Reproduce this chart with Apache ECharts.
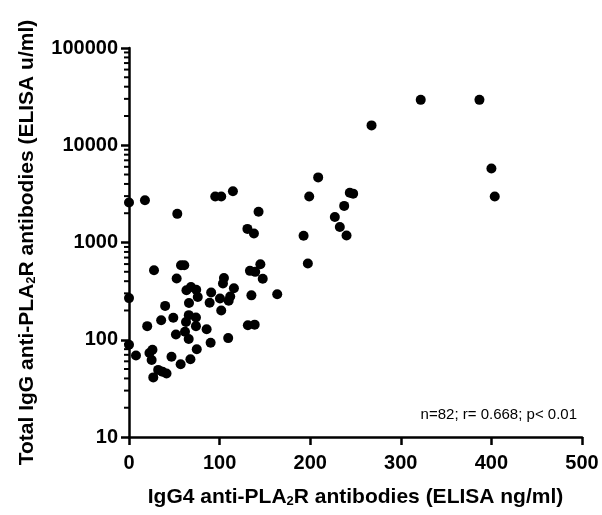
<!DOCTYPE html>
<html>
<head>
<meta charset="utf-8">
<script src="https://cdn.jsdelivr.net/npm/echarts@6/dist/echarts.min.js"></script>
<style>
html,body{margin:0;padding:0;background:#fff;}
#chart{width:602px;height:515px;}
</style>
</head>
<body>
<div id="chart"></div>
<script>
// IgG4 anti-PLA2R (ng/ml)
const igg4 = [
  0, 17.6, 53.3, 95.2, 101.8, 114.7, 143, 130.7, 137.9, 192.7,
  197.4, 27.6, 57.4, 61, 52.6, 133.5, 139.3, 145, 147.6, 104.8,
  103.7, 115.8, 68.4, 63.4, 74.2, 75.9, 90.7, 0, 66.2, 89,
  100.4, 110, 111.7, 135.1, 163.6, 39.9, 101.8, 66, 73.9, 48.9,
  35.5, 62.9, 20.1, 73.9, 85.7, 131.2, 138.7, 61.8, 51.8, 65.9,
  109.5, 0, 90.1, 74.8, 25.9, 7.7, 22.6, 25, 46.9, 67.8,
  57, 32.2, 36.9, 41.4, 26.8, 322, 386.8, 267.7, 400, 403.7,
  208.8, 198.9, 243.7, 247.4, 237.5, 227.2, 232.7, 240.1
];
// Total IgG anti-PLA2R (u/ml)
const totalIgG = [
  2580, 2720, 1970, 2970, 2970, 3370, 2070, 1380, 1240, 1175,
  608, 519, 584, 584, 427, 511, 499, 598, 423, 431,
  379, 339, 349, 323, 327, 275, 306, 268, 239, 240,
  265, 252, 278, 286, 294, 223, 200, 179, 169, 168,
  159, 152, 138, 138, 128, 141, 143, 121, 113, 102,
  104, 89, 93, 80, 79, 69, 73, 62, 67, 63,
  56, 49, 47, 45, 41, 29300, 29300, 16000, 5770, 2970,
  4670, 2970, 3250, 3180, 2380, 1830, 1445, 1180
];
const xTicks = [0, 100, 200, 300, 400, 500];
const yTicks = [10, 100, 1000, 10000, 100000];
const yMinorTicks = [];
for (let d = 10; d < 100000; d *= 10) {
  for (let m = 2; m <= 9; m++) yMinorTicks.push(m * d);
}
const statsText = 'n=82; r= 0.668; p< 0.01';

const FONT = '"Liberation Sans", Arial, sans-serif';
const points = igg4.map((x, i) => [x, totalIgG[i]]);

const nameRich = {
  a: {fontFamily: FONT, fontSize: 21, fontWeight: 'bold', color: '#000'},
  s: {fontFamily: FONT, fontSize: 13, fontWeight: 'bold', color: '#000', verticalAlign: 'bottom'}
};

const chart = echarts.init(document.getElementById('chart'), null, {renderer: 'canvas'});
chart.setOption({
  animation: false,
  backgroundColor: '#fff',
  grid: {left: 129, right: 20, top: 48, bottom: 78, containLabel: false},
  xAxis: {
    type: 'value',
    min: xTicks[0], max: xTicks[xTicks.length - 1], interval: 100,
    name: '{a|IgG4 anti-PLA}{s|2}{a|R antibodies (ELISA ng/ml)}',
    nameLocation: 'middle', nameGap: 50,
    nameTextStyle: {rich: nameRich},
    axisLine: {onZero: false, lineStyle: {color: '#000', width: 2.5}},
    axisTick: {show: true, length: 8, lineStyle: {color: '#000', width: 2.5}},
    axisLabel: {fontFamily: FONT, fontSize: 20, fontWeight: 'bold', color: '#000', margin: 16},
    splitLine: {show: false}
  },
  yAxis: {
    type: 'log', logBase: 10,
    min: yTicks[0], max: yTicks[yTicks.length - 1],
    name: '{a|Total IgG anti-PLA}{s|2}{a|R antibodies (ELISA u/ml)}',
    nameLocation: 'middle', nameGap: 91,
    nameTextStyle: {rich: nameRich},
    axisLine: {onZero: false, lineStyle: {color: '#000', width: 2.5}},
    axisTick: {show: true, length: 8, lineStyle: {color: '#000', width: 2.5}},
    axisLabel: {fontFamily: FONT, fontSize: 20, fontWeight: 'bold', color: '#000', margin: 11,
      formatter: v => String(v)},
    splitLine: {show: false},
    minorTick: {show: false}
  },
  graphic: [{
    type: 'text', right: 25, top: 407,
    style: {text: statsText, font: '15px ' + FONT, fill: '#000'}
  }],
  series: [
    {
      type: 'custom',
      silent: true,
      clip: false,
      z: 1,
      data: yMinorTicks.map(v => [xTicks[0], v]),
      encode: {x: 0, y: 1},
      renderItem: function (params, api) {
        const p = api.coord([api.value(0), api.value(1)]);
        return {
          type: 'line',
          shape: {x1: p[0] - 5, y1: p[1], x2: p[0], y2: p[1]},
          style: {stroke: '#000', lineWidth: 2}
        };
      }
    },
    {
      type: 'scatter',
      data: points,
      symbol: 'circle',
      symbolSize: 10,
      clip: false,
      z: 3,
      itemStyle: {color: '#000', opacity: 1}
    }
  ]
});
</script>
</body>
</html>
